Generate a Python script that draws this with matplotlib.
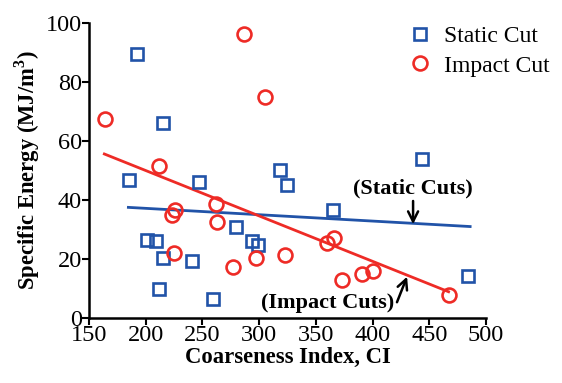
import numpy as np
import matplotlib
matplotlib.use("Agg")
from matplotlib import pyplot as plt
from matplotlib import font_manager

# static cut measurements: coarseness index vs specific energy
static_ci = [192.6, 215.5, 185.5, 247.0, 201.4, 209.0, 215.5, 211.7, 240.6,
             259.6, 279.4, 293.5, 299.3, 318.4, 324.3, 364.9, 443.3, 484.5]
static_se = [89.5, 66.0, 46.8, 46.2, 26.4, 26.2, 20.4, 9.8, 19.2,
             6.5, 31.0, 26.2, 24.6, 50.2, 45.0, 36.6, 53.8, 14.2]

# impact cut measurements
impact_ci = [164.1, 286.9, 305.2, 212.0, 225.8, 222.9, 225.0, 262.0, 262.6,
             277.3, 297.0, 322.8, 360.2, 366.3, 373.4, 390.5, 400.2, 467.7]
impact_se = [67.3, 96.2, 75.0, 51.6, 36.6, 34.9, 22.1, 38.5, 32.6,
             17.4, 20.4, 21.4, 25.3, 27.0, 12.9, 14.9, 16.0, 7.7]

# linear trend lines (end points)
static_fit_x = [184.7, 486.0]
static_fit_y = [37.5, 31.0]
impact_fit_x = [163.5, 467.0]
impact_fit_y = [55.6, 8.9]

x_ticks = [150, 200, 250, 300, 350, 400, 450, 500]
y_ticks = [0, 20, 40, 60, 80, 100]

blue = "#2153a8"
red = "#ee2b26"

# pick a Times-like serif that is actually installed (STIX ships with matplotlib)
names = {f.name for f in font_manager.fontManager.ttflist}
wanted = ["Liberation Serif", "Tinos", "Times New Roman", "Nimbus Roman",
          "TeX Gyre Termes", "STIXGeneral"]
serif = [n for n in wanted if n in names] + ["DejaVu Serif"]
plt.rcParams["font.family"] = "serif"
plt.rcParams["font.serif"] = serif
plt.rcParams["mathtext.fontset"] = "custom"
plt.rcParams["mathtext.rm"] = serif[0]
plt.rcParams["mathtext.bf"] = serif[0] + ":bold"

fig = plt.figure(figsize=(5.62, 3.83), dpi=100)
ax = fig.add_axes([0.1584, 0.1697, 0.7064, 0.7703])

ax.plot(static_fit_x, static_fit_y, color=blue, lw=2.0, zorder=2)
ax.plot(impact_fit_x, impact_fit_y, color=red, lw=2.0, zorder=2)

ax.plot(static_ci, static_se, ls="none", marker="s", ms=8.3, mfc="none",
        mec=blue, mew=1.9, label="Static Cut", clip_on=False, zorder=3)
ax.plot(impact_ci, impact_se, ls="none", marker="o", ms=10, mfc="none",
        mec=red, mew=1.9, label="Impact Cut", clip_on=False, zorder=3)

ax.set_xlim(150, 500)
ax.set_ylim(0, 100)
ax.set_xticks(x_ticks)
ax.set_yticks(y_ticks)

for side in ["top", "right"]:
    ax.spines[side].set_visible(False)
for side in ["left", "bottom"]:
    ax.spines[side].set_linewidth(1.8)
ax.tick_params(direction="out", length=5, width=1.5, labelsize=17.5, pad=0)

ax.set_xlabel("Coarseness Index, CI", fontsize=16.3, fontweight="bold", labelpad=1)
ax.set_ylabel(r"Specific Energy (MJ/m$^\mathbf{3}$)", fontsize=16.3,
              fontweight="bold", labelpad=3)

# annotations pointing at the two trend lines
ax.annotate("(Static Cuts)", xy=(435.7, 31.8), xytext=(435.7, 44),
            ha="center", va="center", fontsize=16, fontweight="bold",
            arrowprops=dict(arrowstyle="->", color="black", lw=1.8,
                            shrinkA=0, shrinkB=0, mutation_scale=18,
                            relpos=(0.5, 0.05)))
ax.annotate("(Impact Cuts)", xy=(430.4, 14.0), xytext=(360.3, 5),
            ha="center", va="center", fontsize=16, fontweight="bold",
            annotation_clip=False,
            arrowprops=dict(arrowstyle="->", color="black", lw=1.8,
                            shrinkA=0, shrinkB=0, mutation_scale=18,
                            relpos=(1.0, 0.2)))

ax.legend(loc="upper left", bbox_to_anchor=(0.805, 0.99), frameon=False,
          fontsize=17, handlelength=1.0, handletextpad=0.5,
          labelspacing=0.32, borderpad=0, borderaxespad=0)

fig.savefig("out.png", dpi=100)
